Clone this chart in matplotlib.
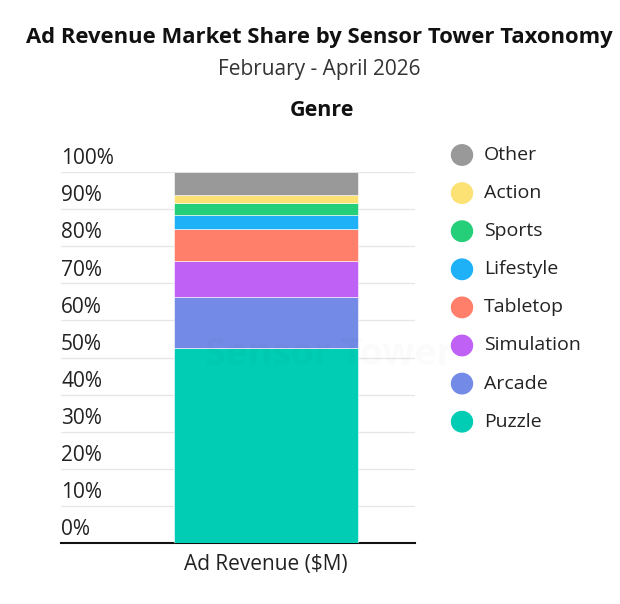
import matplotlib.pyplot as plt
from matplotlib.transforms import offset_copy

genres = ["Puzzle", "Arcade", "Simulation", "Tabletop", "Lifestyle", "Sports", "Action", "Other"]
shares = [52.6, 13.7, 9.6, 8.8, 3.8, 3.1, 2.1, 6.3]
colors = ["#00cdb4", "#738be6", "#c061f6", "#ff7f6a", "#1fb1f7", "#25cf7a", "#fce174", "#999999"]
tick_values = [0, 10, 20, 30, 40, 50, 60, 70, 80, 90, 100]
tick_labels = [f"{v}%" for v in tick_values]
category = "Ad Revenue ($M)"

plt.rcParams['font.family'] = ['Open Sans', 'DejaVu Sans']

fig = plt.figure(figsize=(6.2, 6.04), dpi=100)
ax = fig.add_axes([61 / 620, 61 / 604, 354 / 620, 371 / 604])

bottom = 0
for name, val, col in zip(genres, shares, colors):
    ax.bar(0, val, bottom=bottom, width=1.0, color=col, edgecolor='white', linewidth=0.4, zorder=3)
    bottom += val

ax.set_xlim(-1.114, 0.81)
ax.set_ylim(0, 100)
ax.set_yticks(tick_values)
ax.set_yticklabels([])
for v, lab in zip(tick_values, tick_labels):
    tr = offset_copy(ax.get_yaxis_transform(), fig=fig, x=0, y=2, units='points')
    ax.text(0.0, v, lab, transform=tr, ha='left', va='bottom', fontsize=15, color='#222222')
ax.tick_params(axis='y', length=0)
ax.grid(axis='y', color='#e6e6e6', linewidth=0.9, zorder=0)
ax.set_xticks([])
for s in ['top', 'right', 'left']:
    ax.spines[s].set_visible(False)
ax.spines['bottom'].set_color('#111111')
ax.spines['bottom'].set_linewidth(1.5)

ax.text(0, -0.03, category, transform=ax.get_xaxis_transform(), ha='center', va='top', fontsize=15, color='#222222')

# faint watermark
fig.text(205 / 620, (604 - 355) / 604, "Sensor Tower", ha='left', va='center', fontsize=27,
         color='#000000', alpha=0.015, fontweight='bold', zorder=0)

fig.text(319 / 620, (604 - 37) / 604, "Ad Revenue Market Share by Sensor Tower Taxonomy", ha='center', va='center',
         fontsize=15.8, fontweight='bold', color='#111111')
fig.text(319 / 620, (604 - 69) / 604, "February - April 2026", ha='center', va='center', fontsize=15, color='#333333')
fig.text(322 / 620, (604 - 110) / 604, "Genre", ha='center', va='center', fontsize=15.5, fontweight='bold',
         color='#111111')

# legend (top to bottom: reversed stack order)
for i, (name, col) in enumerate(zip(genres[::-1], colors[::-1])):
    y = (604 - (155 + i * 38.1)) / 604
    fig.patches.append(plt.Circle((462 / 620, y), 10.5 / 620, transform=fig.transFigure, color=col,
                                  figure=fig))
    fig.text(484 / 620, y, name, ha='left', va='center', fontsize=14, color='#222222')

fig.savefig("out.png", dpi=100)
